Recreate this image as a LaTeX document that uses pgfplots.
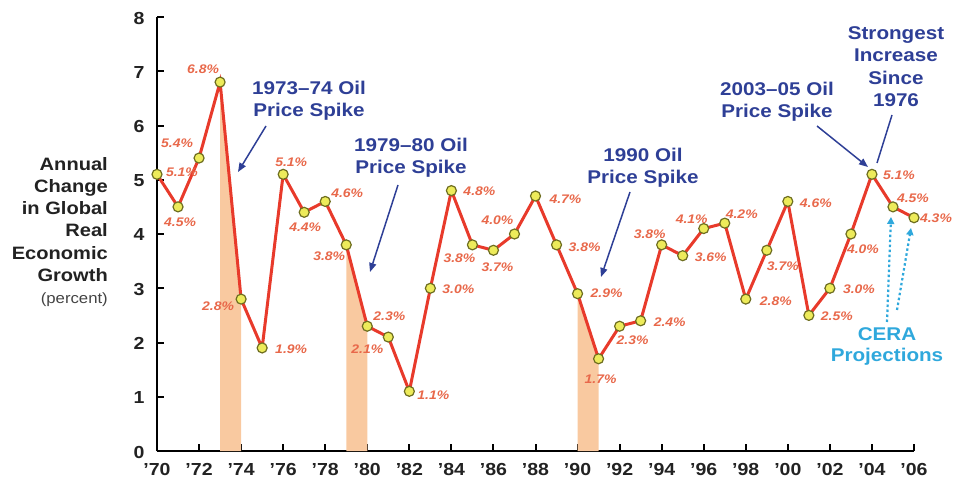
\documentclass[border=0pt]{standalone}
\usepackage{pgfplots}
\pgfplotsset{compat=1.18}
\usetikzlibrary{arrows.meta}
\usepackage{fontspec}
\setmainfont[FakeStretch=1.12]{Liberation Sans}
\definecolor{linered}{HTML}{E83A2B}
\definecolor{lblcol}{HTML}{E8684A}
\definecolor{spike}{HTML}{F9C9A0}
\definecolor{mfill}{HTML}{EDEB5A}
\definecolor{mdraw}{HTML}{6E6E20}
\definecolor{annblue}{HTML}{2E3F96}
\definecolor{cera}{HTML}{2FA8DC}
\definecolor{ylab}{HTML}{222222}
\newcommand\lab[4]{\node[font=\fontsize{12.5}{13}\selectfont\bfseries\itshape, text=lblcol, inner sep=0pt] at (axis cs:#1,#2) [xshift=#3bp,yshift=#4bp] {#2\%};}
\begin{document}
\begin{tikzpicture}
\path[use as bounding box] (0,0) rectangle (956bp,481bp);
\begin{axis}[
  at={(157bp,30bp)}, anchor=south west,
  scale only axis, width=757bp, height=434bp,
  xmin=1970, xmax=2006, ymin=0, ymax=8,
  axis lines=left,
  axis line style={-, line width=2.2bp, black},
  tick align=inside, major tick length=7bp,
  tick style={line width=2bp, black},
  xtick={1970,1972,...,2006},
  xticklabels={'70,'72,'74,'76,'78,'80,'82,'84,'86,'88,'90,'92,'94,'96,'98,'00,'02,'04,'06},
  ytick={0,1,...,8},
  ticklabel style={font=\fontsize{17.5}{17.5}\selectfont\bfseries, text=ylab},
  /pgf/number format/assume math mode=true,
  xticklabel style={yshift=-9bp},
  yticklabel style={xshift=-9bp, yshift=-1bp},
  clip=false,
]
\addplot[fill=spike, draw=none] coordinates {(1973,0) (1973,6.8) (1974,2.8) (1974,0)} -- cycle;
\addplot[fill=spike, draw=none] coordinates {(1979,0) (1979,3.8) (1980,2.3) (1980,0)} -- cycle;
\addplot[fill=spike, draw=none] coordinates {(1990,0) (1990,2.9) (1991,1.7) (1991,0)} -- cycle;
\addplot[linered, line width=3bp, mark=*, mark size=5bp,
  mark options={fill=mfill, draw=mdraw, line width=1.2bp}] coordinates {
(1970,5.1) (1971,4.5) (1972,5.4) (1973,6.8) (1974,2.8) (1975,1.9) (1976,5.1)
(1977,4.4) (1978,4.6) (1979,3.8) (1980,2.3) (1981,2.1) (1982,1.1) (1983,3.0)
(1984,4.8) (1985,3.8) (1986,3.7) (1987,4.0) (1988,4.7) (1989,3.8) (1990,2.9)
(1991,1.7) (1992,2.3) (1993,2.4) (1994,3.8) (1995,3.6) (1996,4.1) (1997,4.2)
(1998,2.8) (1999,3.7) (2000,4.6) (2001,2.5) (2002,3.0) (2003,4.0) (2004,5.1)
(2005,4.5) (2006,4.3)};
\lab{1970}{5.1}{25}{2}
\lab{1971}{4.5}{2}{-15}
\lab{1972}{5.4}{-22}{15}
\lab{1973}{6.8}{-17}{13}
\lab{1974}{2.8}{-23}{-7}
\lab{1975}{1.9}{29}{-1}
\lab{1976}{5.1}{8}{12}
\lab{1977}{4.4}{1}{-15}
\lab{1978}{4.6}{22}{8}
\lab{1979}{3.8}{-17}{-11}
\lab{1980}{2.3}{22}{10}
\lab{1981}{2.1}{-21}{-12}
\lab{1982}{1.1}{24}{-4}
\lab{1983}{3.0}{28}{-1}
\lab{1984}{4.8}{28}{-1}
\lab{1985}{3.8}{-13}{-13}
\lab{1986}{3.7}{4}{-17}
\lab{1987}{4.0}{-17}{14}
\lab{1988}{4.7}{30}{-3}
\lab{1989}{3.8}{28}{-2}
\lab{1990}{2.9}{29}{0}
\lab{1991}{1.7}{2}{-20}
\lab{1992}{2.3}{13}{-14}
\lab{1993}{2.4}{29}{-1}
\lab{1994}{3.8}{-12}{11}
\lab{1995}{3.6}{28}{-2}
\lab{1996}{4.1}{-12}{9}
\lab{1997}{4.2}{17}{9}
\lab{1998}{2.8}{30}{-2}
\lab{1999}{3.7}{16}{-16}
\lab{2000}{4.6}{28}{-2}
\lab{2001}{2.5}{28}{-1}
\lab{2002}{3.0}{29}{-1}
\lab{2003}{4.0}{12}{-15}
\lab{2004}{5.1}{27}{-1}
\lab{2005}{4.5}{20}{9}
\lab{2006}{4.3}{22}{0}
\end{axis}
% y-axis title
\node[anchor=east, align=right, text=ylab, inner sep=0pt,
  font=\fontsize{18}{22.3}\selectfont\bfseries] at (108bp,249bp)
  {Annual\\Change\\in Global\\Real\\Economic\\Growth\\{\fontsize{15}{22.3}\selectfont\mdseries\color{ylab!85}(percent)}};
% annotations
\tikzset{ann/.style={align=center, text=annblue, inner sep=0pt, font=\fontsize{18.5}{22.5}\selectfont\bfseries},
  barrow/.style={annblue, line width=1.5bp, -{Triangle[length=9bp,width=7bp]}}}
\node[ann] at (309bp,380bp) {1973--74 Oil\\Price Spike};
\draw[barrow] (266bp,355bp) -- (238bp,309bp);
\node[ann] at (411bp,323bp) {1979--80 Oil\\Price Spike};
\draw[barrow] (398bp,296bp) -- (370bp,209bp);
\node[ann] at (643bp,313bp) {1990 Oil\\Price Spike};
\draw[barrow] (630bp,289bp) -- (601bp,204bp);
\node[ann] at (777bp,379bp) {2003--05 Oil\\Price Spike};
\draw[barrow] (817bp,355bp) -- (868bp,314bp);
\node[ann] at (896bp,414.5bp) {Strongest\\Increase\\Since\\1976};
\draw[annblue, line width=1.5bp] (892bp,366bp) -- (877bp,318bp);
\node[ann, text=cera, font=\fontsize{18.5}{21}\selectfont\bfseries] at (887bp,134.5bp) {CERA\\Projections};
\draw[cera, line width=2.2bp, dash pattern=on 2.5bp off 2.5bp, -{Triangle[length=7bp,width=7bp]}] (887bp,159bp) -- (891bp,264bp);
\draw[cera, line width=2.2bp, dash pattern=on 2.5bp off 2.5bp, -{Triangle[length=7bp,width=7bp]}] (897bp,171bp) -- (911bp,253bp);
\end{tikzpicture}
\end{document}
